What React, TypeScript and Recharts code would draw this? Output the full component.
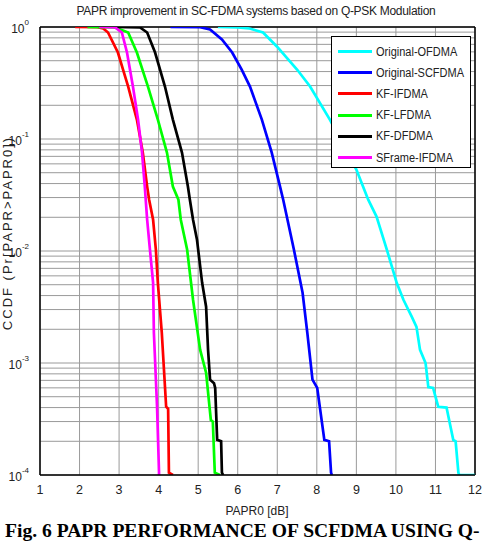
import React from "react"
import {
  LineChart,
  Line,
  XAxis,
  YAxis,
  CartesianGrid,
  ReferenceLine,
  Legend,
} from "recharts"

type Pt = { x: number; p: number }

const pts = (rows: number[][]): Pt[] => rows.map(([x, p]) => ({ x, p }))

// CCDF curves, PAPR0 [dB] vs Pr[PAPR > PAPR0]
const originalOfdma = pts([
  [5.5, 1], [6.0, 0.99], [6.3, 0.97], [6.64, 0.893], [6.99, 0.67], [7.5, 0.417],
  [7.83, 0.294], [8.33, 0.149], [9.0, 0.0533], [9.3, 0.0287], [9.51, 0.0203],
  [9.77, 0.0103], [10.02, 0.0052], [10.19, 0.00367], [10.4, 0.00259],
  [10.52, 0.0021], [10.61, 0.00131], [10.75, 0.001], [10.82, 0.00061],
  [10.94, 0.0006], [11.07, 0.000407], [11.28, 0.0004], [11.45, 0.000206],
  [11.51, 0.0002], [11.58, 0.000105], [11.6, 0.0001], [12, 0.0001],
])

const originalScfdma = pts([
  [4.3, 1], [5.05, 0.995], [5.3, 0.95], [5.6, 0.773], [5.86, 0.592], [6.1, 0.417],
  [6.31, 0.294], [6.61, 0.149], [6.86, 0.0756], [7.07, 0.0376], [7.15, 0.0287],
  [7.42, 0.0103], [7.64, 0.00424], [7.76, 0.00186], [7.89, 0.00071],
  [8.01, 0.0006], [8.19, 0.000206], [8.31, 0.0002], [8.36, 0.000105], [8.38, 0.0001],
])

const kfIfdma = pts([
  [1.89, 1], [2.45, 0.995], [2.6, 0.97], [2.72, 0.893], [2.97, 0.592], [3.1, 0.417],
  [3.23, 0.294], [3.45, 0.149], [3.6, 0.0756], [3.71, 0.0376], [3.76, 0.0287],
  [3.86, 0.019], [3.93, 0.0103], [3.98, 0.0052], [4.08, 0.00186], [4.19, 0.000407],
  [4.24, 0.00039], [4.26, 0.000105], [4.36, 0.0001],
])

const kfLfdma = pts([
  [2.2, 1], [2.9, 0.99], [3.23, 0.893], [3.45, 0.592], [3.73, 0.294], [3.98, 0.149],
  [4.21, 0.0756], [4.36, 0.0376], [4.5, 0.0287], [4.56, 0.019], [4.72, 0.0103],
  [4.87, 0.00367], [5.05, 0.00131], [5.2, 0.00082], [5.32, 0.00031], [5.37, 0.0003],
  [5.42, 0.000105], [5.55, 0.0001],
])

const kfDfdma = pts([
  [2.9, 1], [3.53, 0.99], [3.71, 0.893], [3.91, 0.592], [4.16, 0.294], [4.36, 0.149],
  [4.59, 0.0756], [4.74, 0.0376], [4.79, 0.0287], [4.87, 0.019], [4.97, 0.0126],
  [5.1, 0.0052], [5.2, 0.00318], [5.25, 0.00131], [5.3, 0.00071], [5.4, 0.00066],
  [5.43, 0.0006], [5.48, 0.000206], [5.58, 0.0002], [5.6, 0.000105], [5.63, 0.0001],
])

const sframeIfdma = pts([
  [2.5, 1], [2.9, 0.99], [3.07, 0.893], [3.2, 0.592], [3.35, 0.294], [3.48, 0.149],
  [3.58, 0.0756], [3.65, 0.0376], [3.71, 0.019], [3.78, 0.0103], [3.86, 0.0052],
  [3.88, 0.00186], [3.96, 0.000407], [4.01, 0.000105], [4.01, 0.0001],
])

const seriesNames = [
  "Original-OFDMA",
  "Original-SCFDMA",
  "KF-IFDMA",
  "KF-LFDMA",
  "KF-DFDMA",
  "SFrame-IFDMA",
]
const seriesColors = ["#00ffff", "#0000ff", "#ff0000", "#00ff00", "#000000", "#ff00ff"]
const seriesData = [originalOfdma, originalScfdma, kfIfdma, kfLfdma, kfDfdma, sframeIfdma]

const xTicks = [1, 2, 3, 4, 5, 6, 7, 8, 9, 10, 11, 12]
const decades = [-4, -3, -2, -1, 0]
const yTicks: number[] = []
for (const d of [-4, -3, -2, -1]) {
  for (let m = 1; m < 10; m++) yTicks.push(Number((m * Math.pow(10, d)).toPrecision(3)))
}
yTicks.push(1)

const font = "'Liberation Sans', Arial, sans-serif"
const textColor = "#222"

const DecadeTick = (props: any) => {
  const { x, y, payload } = props
  const e = Math.round(Math.log10(payload.value))
  const isDecade = Math.abs(payload.value - Math.pow(10, e)) < 1e-12 && decades.includes(e)
  if (!isDecade) return <g />
  return (
    <text x={x - 3} y={y + 6} textAnchor="end" fontSize={12} fill={textColor} fontFamily={font}>
      10
      <tspan fontSize={8} dy={-8}>
        {e}
      </tspan>
    </text>
  )
}

const LegendBox = () => (
  <div
    style={{
      width: 140,
      height: 132,
      border: "1px solid #000",
      background: "#fff",
      fontFamily: font,
      fontSize: 12.5,
      color: textColor,
      paddingTop: 4,
      boxSizing: "border-box",
    }}
  >
    {seriesNames.map((name, i) => (
      <div key={name} style={{ display: "flex", alignItems: "center", height: 21.2, whiteSpace: "nowrap" }}>
        <div style={{ width: 34, height: 3, background: seriesColors[i], marginLeft: 6, marginRight: 4, flexShrink: 0 }} />
        <span style={{ display: "inline-block", transform: "scaleX(0.88)", transformOrigin: "left center" }}>{name}</span>
      </div>
    ))}
  </div>
)

export default function App() {
  return (
    <div style={{ position: "absolute", left: 0, top: 0, width: 485, height: 541, background: "#fff" }}>
      <div
        style={{
          position: "absolute",
          left: 0,
          width: 512,
          top: 4,
          textAlign: "center",
          fontFamily: font,
          fontSize: 12,
          letterSpacing: -0.3,
          color: textColor,
        }}
      >
        PAPR improvement in SC-FDMA systems based on Q-PSK Modulation
      </div>
      <LineChart width={485} height={500} margin={{ top: 27, right: 10, left: 0, bottom: 0 }}>
        <CartesianGrid stroke="#9a9a9a" strokeWidth={1} />
        <XAxis
          dataKey="x"
          type="number"
          domain={[1, 12]}
          ticks={xTicks}
          allowDataOverflow
          height={25}
          tickLine={false}
          tickMargin={4}
          axisLine={{ stroke: "#000", strokeWidth: 1.5 }}
          tick={{ fontSize: 12.5, fill: textColor, fontFamily: font }}
        />
        <YAxis
          dataKey="p"
          type="number"
          scale="log"
          domain={[1e-4, 1]}
          ticks={yTicks}
          allowDataOverflow
          width={40}
          tickLine={false}
          axisLine={{ stroke: "#000", strokeWidth: 1.5 }}
          tick={DecadeTick}
          interval={0}
        />
        <ReferenceLine y={1} stroke="#000" strokeWidth={1.5} />
        <ReferenceLine x={12} stroke="#000" strokeWidth={1.5} />
        {seriesData.map((d, i) => (
          <Line
            key={seriesNames[i]}
            data={d}
            dataKey="p"
            name={seriesNames[i]}
            type="linear"
            stroke={seriesColors[i]}
            strokeWidth={2.7}
            dot={false}
            isAnimationActive={false}
          />
        ))}
        <Legend
          layout="vertical"
          align="center"
          verticalAlign="middle"
          content={LegendBox}
          wrapperStyle={{ left: 331, top: 36, width: 140, height: 132 }}
        />
      </LineChart>
      <div
        style={{
          position: "absolute",
          left: 0,
          width: 514,
          top: 504,
          textAlign: "center",
          fontFamily: font,
          fontSize: 12,
          color: textColor,
        }}
      >
        PAPR0 [dB]
      </div>
      <div
        style={{
          position: "absolute",
          left: 7,
          top: 233,
          width: 0,
          height: 0,
        }}
      >
        <div
          style={{
            position: "absolute",
            transform: "translate(-50%, -50%) rotate(-90deg)",
            whiteSpace: "nowrap",
            fontFamily: font,
            fontSize: 13,
            letterSpacing: 2,
            color: textColor,
          }}
        >
          CCDF (Pr[PAPR&gt;PAPR0])
        </div>
      </div>
      <div
        style={{
          position: "absolute",
          left: 5,
          top: 521,
          whiteSpace: "nowrap",
          fontFamily: "'Liberation Serif', 'Times New Roman', serif",
          fontWeight: "bold",
          fontSize: 19.6,
          lineHeight: "20px",
          color: "#000",
        }}
      >
        Fig. 6 PAPR PERFORMANCE OF SCFDMA USING Q-
      </div>
    </div>
  )
}
